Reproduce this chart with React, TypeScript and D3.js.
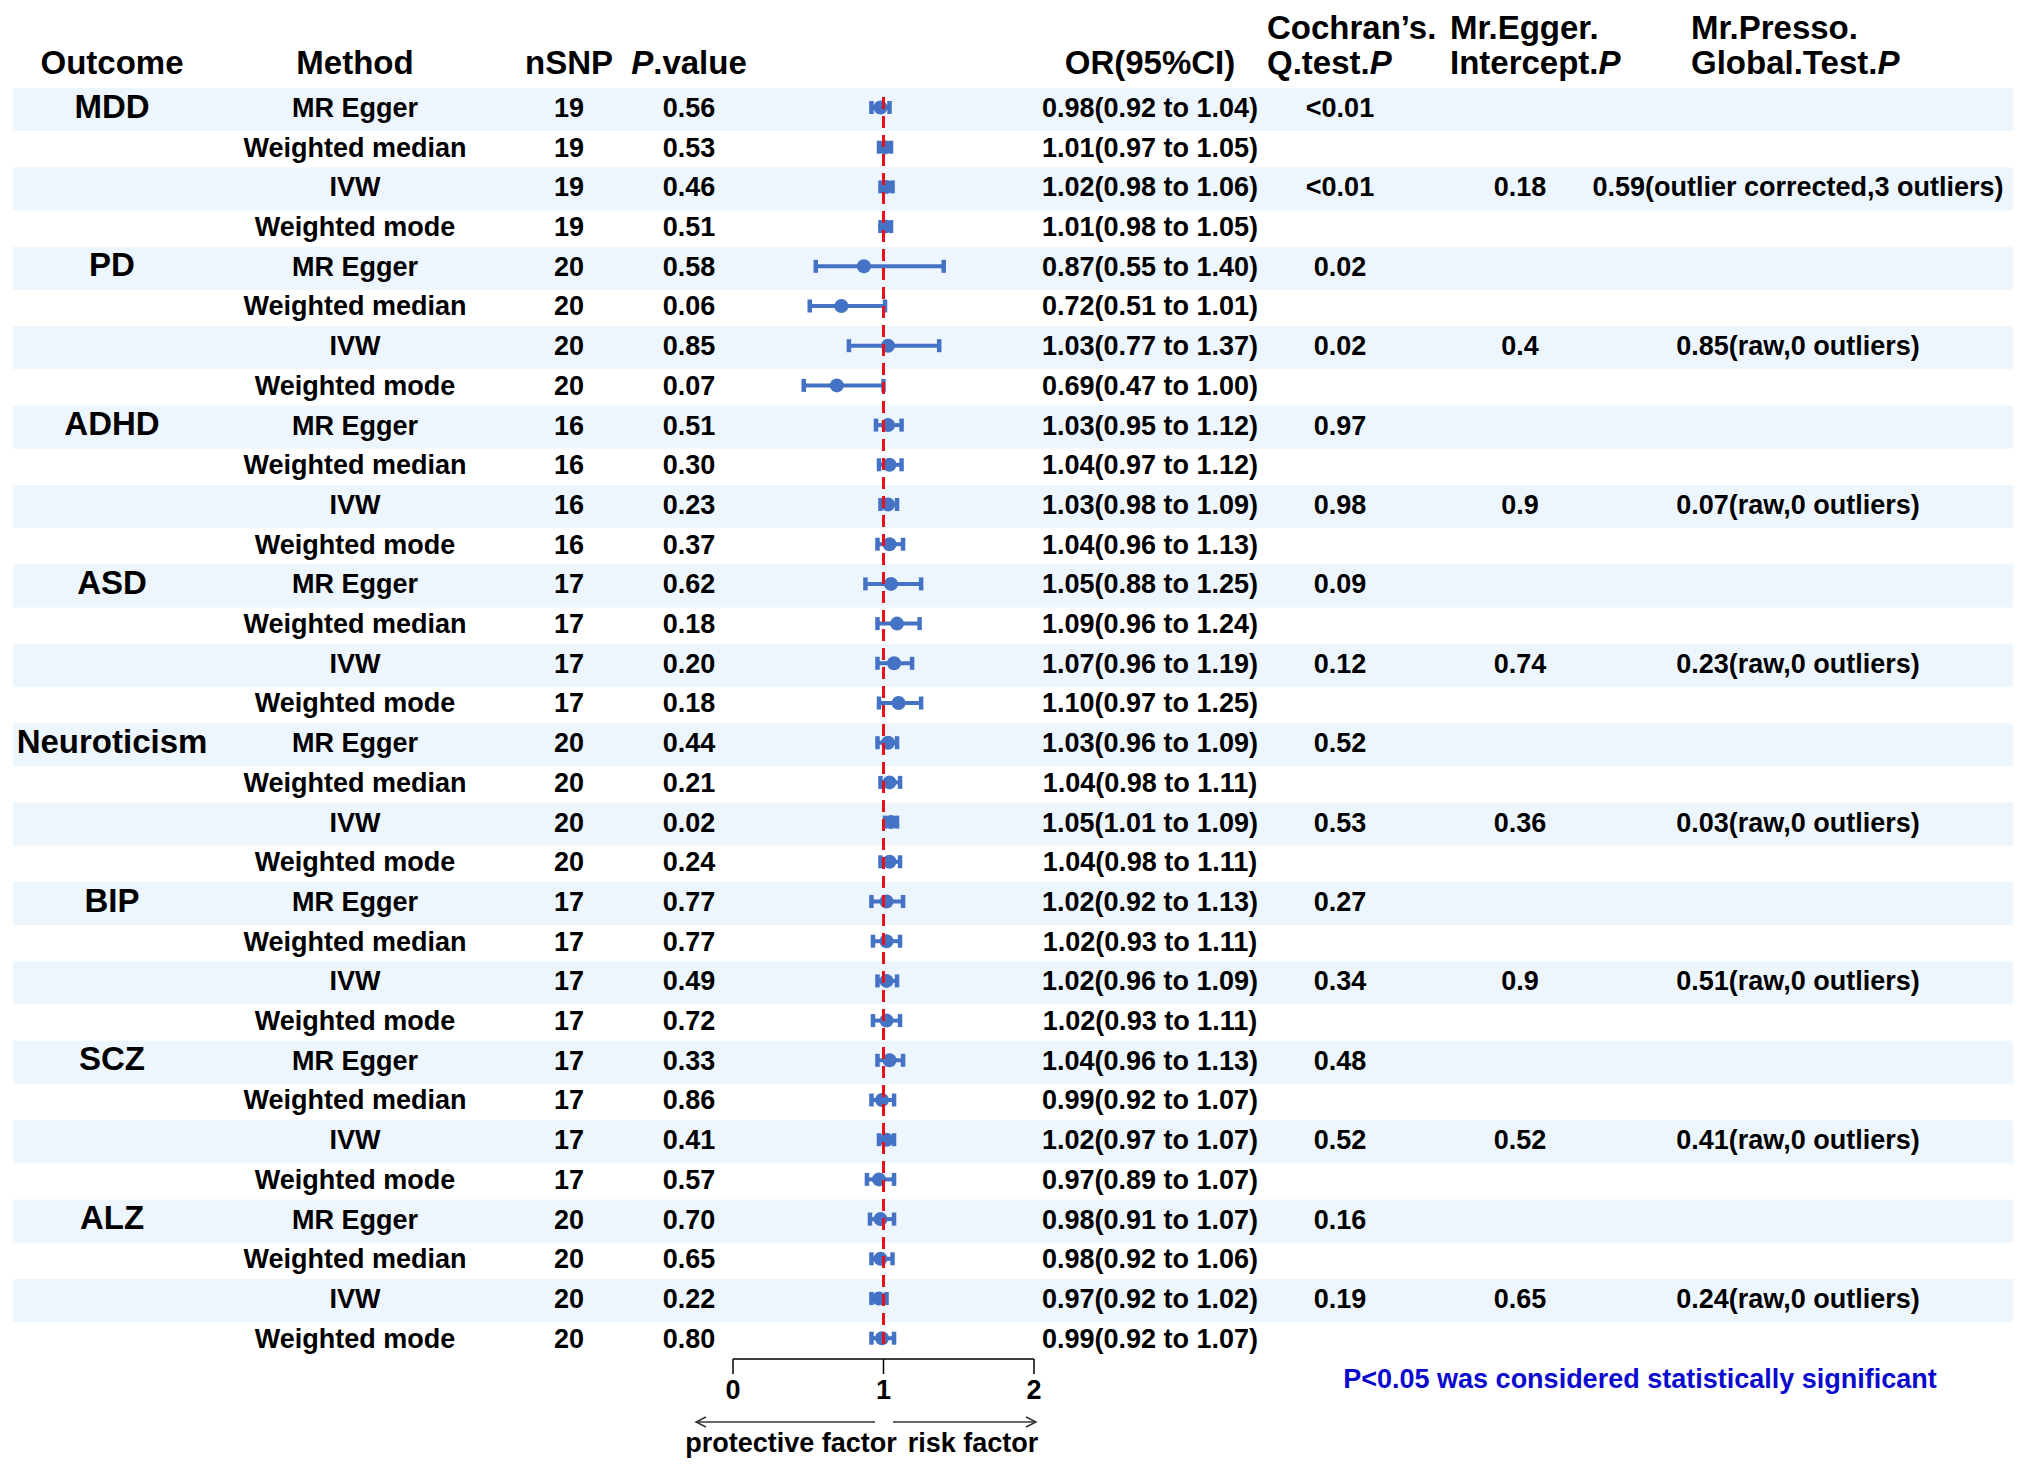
import React from "react";
import * as d3 from "d3";

const outcomes = ["MDD", "PD", "ADHD", "ASD", "Neuroticism", "BIP", "SCZ", "ALZ"];
const methods = ["MR Egger", "Weighted median", "IVW", "Weighted mode"];
const nSNP = [19, 20, 16, 17, 20, 17, 17, 20];
const pValues = [
  "0.56", "0.53", "0.46", "0.51",
  "0.58", "0.06", "0.85", "0.07",
  "0.51", "0.30", "0.23", "0.37",
  "0.62", "0.18", "0.20", "0.18",
  "0.44", "0.21", "0.02", "0.24",
  "0.77", "0.77", "0.49", "0.72",
  "0.33", "0.86", "0.41", "0.57",
  "0.70", "0.65", "0.22", "0.80",
];
const orValues = [
  0.98, 1.01, 1.02, 1.01,
  0.87, 0.72, 1.03, 0.69,
  1.03, 1.04, 1.03, 1.04,
  1.05, 1.09, 1.07, 1.10,
  1.03, 1.04, 1.05, 1.04,
  1.02, 1.02, 1.02, 1.02,
  1.04, 0.99, 1.02, 0.97,
  0.98, 0.98, 0.97, 0.99,
];
const ciLower = [
  0.92, 0.97, 0.98, 0.98,
  0.55, 0.51, 0.77, 0.47,
  0.95, 0.97, 0.98, 0.96,
  0.88, 0.96, 0.96, 0.97,
  0.96, 0.98, 1.01, 0.98,
  0.92, 0.93, 0.96, 0.93,
  0.96, 0.92, 0.97, 0.89,
  0.91, 0.92, 0.92, 0.92,
];
const ciUpper = [
  1.04, 1.05, 1.06, 1.05,
  1.40, 1.01, 1.37, 1.00,
  1.12, 1.12, 1.09, 1.13,
  1.25, 1.24, 1.19, 1.25,
  1.09, 1.11, 1.09, 1.11,
  1.13, 1.11, 1.09, 1.11,
  1.13, 1.07, 1.07, 1.07,
  1.07, 1.06, 1.02, 1.07,
];
// Cochran's Q test P: MR Egger row and IVW row per outcome
const cochranEgger = ["<0.01", "0.02", "0.97", "0.09", "0.52", "0.27", "0.48", "0.16"];
const cochranIVW = ["<0.01", "0.02", "0.98", "0.12", "0.53", "0.34", "0.52", "0.19"];
const eggerIntercept = ["0.18", "0.4", "0.9", "0.74", "0.36", "0.9", "0.52", "0.65"];
const pressoGlobal = [
  "0.59(outlier corrected,3 outliers)",
  "0.85(raw,0 outliers)",
  "0.07(raw,0 outliers)",
  "0.23(raw,0 outliers)",
  "0.03(raw,0 outliers)",
  "0.51(raw,0 outliers)",
  "0.41(raw,0 outliers)",
  "0.24(raw,0 outliers)",
];
const axisTicks = [0, 1, 2];

const FONT = "'Liberation Sans', Arial, Helvetica, sans-serif";
const BLUE = "#4472C4";
const BAND = "#EDF5FD";

export default function App() {
  const W = 2027;
  const H = 1470;
  const nRows = outcomes.length * methods.length;
  const y = d3.scaleLinear().domain([0, nRows - 1]).range([107.5, 107.5 + (nRows - 1) * 39.7]);
  const x = d3.scaleLinear().domain([0, 2]).range([733, 1034]);

  const dataFs = 27;
  const headFs = 33;
  const off = (fs: number) => fs * 0.35;

  const rows = d3.range(nRows).map((i) => ({
    i,
    o: Math.floor(i / methods.length),
    m: i % methods.length,
  }));

  const col = {
    outcome: 112,
    method: 355,
    nsnp: 569,
    p: 689,
    or: 1150,
    cochran: 1340,
    egger: 1520,
    presso: 1798,
  };

  const axisY = 1359;

  return (
    <svg
      width={W}
      height={H}
      viewBox={`0 0 ${W} ${H}`}
      style={{ position: "absolute", left: 0, top: 0, background: "#fff" }}
      fontFamily={FONT}
      fontWeight="bold"
    >
      <rect x={0} y={0} width={W} height={H} fill="#fff" />
      {/* bands */}
      {rows
        .filter((r) => r.i % 2 === 0)
        .map((r) => (
          <rect key={"b" + r.i} x={13} y={y(r.i) - 19.5} width={2000} height={43} fill={BAND} />
        ))}

      {/* headers */}
      <g fontSize={headFs} fill="#000">
        <text x={col.outcome} y={62 + off(headFs)} textAnchor="middle">Outcome</text>
        <text x={col.method} y={62 + off(headFs)} textAnchor="middle">Method</text>
        <text x={col.nsnp} y={62 + off(headFs)} textAnchor="middle">nSNP</text>
        <text x={col.p} y={62 + off(headFs)} textAnchor="middle">
          <tspan fontStyle="italic">P</tspan>.value
        </text>
        <text x={col.or} y={62 + off(headFs)} textAnchor="middle">OR(95%CI)</text>
        <text x={1267} y={27 + off(headFs)}>Cochran’s.</text>
        <text x={1267} y={62 + off(headFs)}>
          Q.test.<tspan fontStyle="italic">P</tspan>
        </text>
        <text x={1450} y={27 + off(headFs)}>Mr.Egger.</text>
        <text x={1450} y={62 + off(headFs)}>
          Intercept.<tspan fontStyle="italic">P</tspan>
        </text>
        <text x={1691} y={27 + off(headFs)}>Mr.Presso.</text>
        <text x={1691} y={62 + off(headFs)}>
          Global.Test.<tspan fontStyle="italic">P</tspan>
        </text>
      </g>

      {/* outcome labels */}
      <g fontSize={headFs} fill="#000">
        {outcomes.map((o, k) => (
          <text key={o} x={col.outcome} y={y(k * methods.length) + off(headFs) - 1.5} textAnchor="middle">
            {o}
          </text>
        ))}
      </g>

      {/* row texts */}
      <g fontSize={dataFs} fill="#000" textAnchor="middle">
        {rows.map((r) => {
          const yy = y(r.i) + off(dataFs);
          return (
            <g key={"t" + r.i}>
              <text x={col.method} y={yy}>{methods[r.m]}</text>
              <text x={col.nsnp} y={yy}>{nSNP[r.o]}</text>
              <text x={col.p} y={yy}>{pValues[r.i]}</text>
              <text x={col.or} y={yy}>
                {`${orValues[r.i].toFixed(2)}(${ciLower[r.i].toFixed(2)} to ${ciUpper[r.i].toFixed(2)})`}
              </text>
              {r.m === 0 && <text x={col.cochran} y={yy}>{cochranEgger[r.o]}</text>}
              {r.m === 2 && <text x={col.cochran} y={yy}>{cochranIVW[r.o]}</text>}
              {r.m === 2 && <text x={col.egger} y={yy}>{eggerIntercept[r.o]}</text>}
              {r.m === 2 && <text x={col.presso} y={yy}>{pressoGlobal[r.o]}</text>}
            </g>
          );
        })}
      </g>

      {/* error bars */}
      <g stroke={BLUE} fill={BLUE}>
        {rows.map((r) => {
          const yy = y(r.i);
          const x0 = x(ciLower[r.i]);
          const x1 = x(ciUpper[r.i]);
          return (
            <g key={"e" + r.i}>
              <line x1={x0} x2={x1} y1={yy} y2={yy} strokeWidth={4} />
              <line x1={x0} x2={x0} y1={yy - 6.5} y2={yy + 6.5} strokeWidth={4.5} />
              <line x1={x1} x2={x1} y1={yy - 6.5} y2={yy + 6.5} strokeWidth={4.5} />
              <circle cx={x(orValues[r.i])} cy={yy} r={7} stroke="none" />
            </g>
          );
        })}
      </g>

      {/* reference line */}
      <line
        x1={x(1)}
        x2={x(1)}
        y1={97}
        y2={1347}
        stroke="#E8101A"
        strokeWidth={3}
        strokeDasharray="12,7"
      />

      {/* axis */}
      <g stroke="#000" strokeWidth={1.5} fill="none">
        <line x1={x(0)} x2={x(2)} y1={axisY} y2={axisY} />
        {axisTicks.map((t) => (
          <line key={"tk" + t} x1={x(t)} x2={x(t)} y1={axisY} y2={axisY + 15} />
        ))}
      </g>
      <g fontSize={dataFs} fill="#000" textAnchor="middle">
        {axisTicks.map((t) => (
          <text key={"tl" + t} x={x(t)} y={1390 + off(dataFs)}>{t}</text>
        ))}
      </g>

      {/* arrows */}
      <g stroke="#333" strokeWidth={1.5} fill="none">
        <line x1={875} x2={696} y1={1422} y2={1422} />
        <polyline points={`${706},${1417} ${696},${1422} ${706},${1427}`} />
        <line x1={893} x2={1036} y1={1422} y2={1422} />
        <polyline points={`${1026},${1417} ${1036},${1422} ${1026},${1427}`} />
      </g>
      <g fontSize={dataFs} fill="#000" textAnchor="middle">
        <text x={791} y={1443 + off(dataFs)}>protective factor</text>
        <text x={973} y={1443 + off(dataFs)}>risk factor</text>
      </g>

      {/* footnote */}
      <text x={1640} y={1379 + off(dataFs)} fontSize={dataFs} fill="#0A0ACF" textAnchor="middle">
        P&lt;0.05 was considered statistically significant
      </text>
    </svg>
  );
}
